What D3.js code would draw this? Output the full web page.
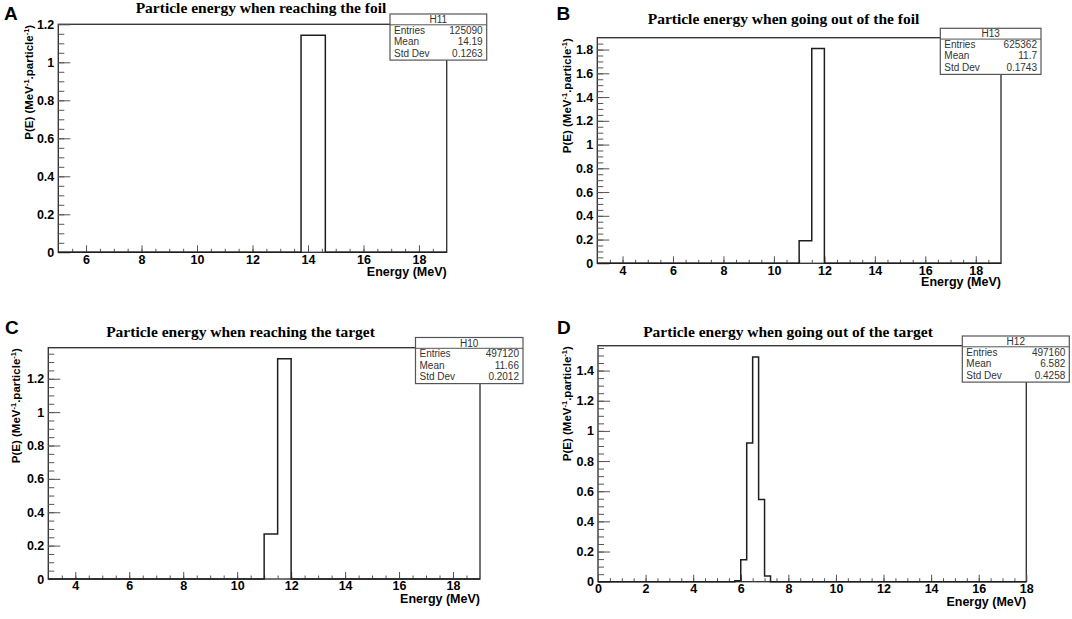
<!DOCTYPE html>
<html>
<head>
<meta charset="utf-8">
<script src="https://cdn.jsdelivr.net/npm/d3@7"></script>
<style>
  html, body { margin: 0; padding: 0; background: #fff; }
  svg { display: block; }
</style>
</head>
<body>
<script>
//Data
const panelLetters = ['A', 'B', 'C', 'D'];
const panelTitles = [
  'Particle energy when reaching the foil',
  'Particle energy when going out of the foil',
  'Particle energy when reaching the target',
  'Particle energy when going out of the target'
];
const histNames = ['H11', 'H13', 'H10', 'H12'];
const statEntries = ['125090', '625362', '497120', '497160'];
const statMeans = ['14.19', '11.7', '11.66', '6.582'];
const statStdDevs = ['0.1263', '0.1743', '0.2012', '0.4258'];

const xRanges = [[5, 19], [3, 19], [3, 19], [0, 18]];
const yMaxima = [1.2, 1.9, 1.386, 1.565];
const xTickLabels = [
  [6, 8, 10, 12, 14, 16, 18],
  [4, 6, 8, 10, 12, 14, 16, 18],
  [4, 6, 8, 10, 12, 14, 16, 18],
  [0, 2, 4, 6, 8, 10, 12, 14, 16, 18]
];
const yTickLabels = [
  [0, 0.2, 0.4, 0.6, 0.8, 1, 1.2],
  [0, 0.2, 0.4, 0.6, 0.8, 1, 1.2, 1.4, 1.6, 1.8],
  [0, 0.2, 0.4, 0.6, 0.8, 1, 1.2],
  [0, 0.2, 0.4, 0.6, 0.8, 1, 1.2, 1.4]
];
const binWidths = [0.875, 0.5, 0.5, 0.25];
const binLows = [
  [13.75],
  [11, 11.5],
  [11, 11.5],
  [5.75, 6, 6.25, 6.5, 6.75, 7]
];
const binValues = [
  [1.143],
  [0.19, 1.81],
  [0.27, 1.32],
  [0.006, 0.145, 0.92, 1.49, 0.545, 0.038]
];
const xAxisTitle = 'Energy (MeV)';

//Layout
const frames = [
  { l: 58.3, r: 446.7, t: 24.3, b: 252.3 },
  { l: 597.3, r: 1001, t: 37.7, b: 263.3 },
  { l: 48.3, r: 480, t: 347.7, b: 579 },
  { l: 598, r: 1026.3, t: 345.7, b: 581.7 }
];
const statBoxes = [
  { x: 390, y: 14, w: 96.7 },
  { x: 940.3, y: 28.3, w: 100.7 },
  { x: 415.5, y: 337.5, w: 107.5 },
  { x: 962.3, y: 336, w: 107 }
];
const titlePos = [[261, 13], [783.5, 23.5], [240.5, 337], [788, 337]];
const letterPos = [[4, 20], [556.5, 20], [5, 333.5], [557, 334]];
const yTitleX = [32.5, 570.5, 19.5, 570.5];
const xTitleY = [275.5, 286, 602.5, 606];

const SANS = '"Liberation Sans", Arial, sans-serif';
const SERIF = '"Liberation Serif", "Times New Roman", serif';

const svg = d3.select('body').append('svg')
  .attr('width', 1072).attr('height', 619);

const styleAxis = (sel, showText) => {
  sel.select('.domain').remove();
  sel.attr('font-family', SANS).attr('font-size', 12.5).attr('font-weight', 'bold');
  sel.selectAll('line').attr('stroke', '#555').attr('stroke-width', 1);
  sel.selectAll('text').attr('fill', showText ? '#000' : 'none');
};

panelLetters.forEach((letter, i) => {
  const f = frames[i];
  const [xMin, xMax] = xRanges[i];
  const x = d3.scaleLinear().domain(xRanges[i]).range([f.l, f.r]);
  const y = d3.scaleLinear().domain([0, yMaxima[i]]).range([f.b, f.t]);
  const g = svg.append('g');

  // frame
  g.append('rect')
    .attr('x', f.l).attr('y', f.t)
    .attr('width', f.r - f.l).attr('height', f.b - f.t)
    .attr('fill', 'none').attr('stroke', '#383838').attr('stroke-width', 1.4);

  // x axis: minor every 0.5, major as labelled
  const xMinor = d3.range(Math.ceil(xMin / 0.5) * 0.5, xMax + 1e-9, 0.5)
    .filter(v => v > xMin && v < xMax);
  g.append('g').attr('transform', `translate(0,${f.b})`)
    .call(d3.axisBottom(x).tickValues(xMinor).tickSize(-3.5).tickFormat(''))
    .call(s => styleAxis(s, false));
  g.append('g').attr('transform', `translate(0,${f.b})`)
    .call(d3.axisBottom(x).tickValues(xTickLabels[i]).tickSize(-7).tickPadding(2.5)
      .tickFormat(d3.format('~g')))
    .call(s => styleAxis(s, true));

  // y axis: minor every 0.05
  const yMinor = d3.range(0.05, yMaxima[i], 0.05);
  g.append('g').attr('transform', `translate(${f.l},0)`)
    .call(d3.axisLeft(y).tickValues(yMinor).tickSize(-6).tickFormat(''))
    .call(s => styleAxis(s, false));
  g.append('g').attr('transform', `translate(${f.l},0)`)
    .call(d3.axisLeft(y).tickValues(yTickLabels[i]).tickSize(-12).tickPadding(4)
      .tickFormat(d3.format('~g')))
    .call(s => styleAxis(s, true));

  // histogram outline (ROOT style step line)
  const lows = binLows[i];
  const pts = [{ e: xMin, v: 0 }]
    .concat(lows.map((lo, k) => ({ e: lo, v: binValues[i][k] })))
    .concat([{ e: lows[lows.length - 1] + binWidths[i], v: 0 }, { e: xMax, v: 0 }]);
  const step = d3.line().x(d => x(d.e)).y(d => y(d.v)).curve(d3.curveStepAfter);
  g.append('path').attr('d', step(pts))
    .attr('fill', 'none').attr('stroke', '#1e1e1e').attr('stroke-width', 1.5);

  // stats box
  const sb = statBoxes[i];
  const headH = 10.8, rowH = 11.5;
  const sg = g.append('g').attr('transform', `translate(${sb.x},${sb.y})`)
    .attr('font-family', SANS).attr('font-size', 10).attr('fill', '#333');
  sg.append('rect').attr('width', sb.w).attr('height', headH + 3 * rowH + 0.8)
    .attr('fill', '#fff').attr('stroke', '#555').attr('stroke-width', 1.2);
  sg.append('line').attr('x1', 0).attr('x2', sb.w).attr('y1', headH).attr('y2', headH)
    .attr('stroke', '#555').attr('stroke-width', 1);
  sg.append('text').attr('x', sb.w / 2).attr('y', headH - 1.8)
    .attr('text-anchor', 'middle').text(histNames[i]);
  const rows = [['Entries', statEntries[i]], ['Mean', statMeans[i]], ['Std Dev', statStdDevs[i]]];
  rows.forEach(([k, v], r) => {
    const by = headH + rowH * (r + 1) - 2.6;
    sg.append('text').attr('x', 4).attr('y', by).text(k);
    sg.append('text').attr('x', sb.w - 4).attr('y', by).attr('text-anchor', 'end').text(v);
  });

  // title
  g.append('text')
    .attr('x', titlePos[i][0]).attr('y', titlePos[i][1])
    .attr('text-anchor', 'middle')
    .attr('font-family', SERIF).attr('font-weight', 'bold').attr('font-size', 15.5)
    .attr('fill', '#000')
    .text(panelTitles[i]);

  // panel letter
  g.append('text')
    .attr('x', letterPos[i][0]).attr('y', letterPos[i][1])
    .attr('font-family', SANS).attr('font-weight', 'bold').attr('font-size', 19)
    .attr('fill', '#000')
    .text(letter);

  // y axis title, anchored at frame top
  const yt = g.append('text')
    .attr('transform', `translate(${yTitleX[i]},${f.t + 0.5}) rotate(-90)`)
    .attr('text-anchor', 'end')
    .attr('font-family', SANS).attr('font-weight', 'bold').attr('font-size', 11.5)
    .attr('fill', '#000');
  yt.append('tspan').text('P(E) (MeV');
  yt.append('tspan').attr('dy', -4).attr('font-size', 7.5).text('-1');
  yt.append('tspan').attr('dy', 4).text('.particle');
  yt.append('tspan').attr('dy', -4).attr('font-size', 7.5).text('-1');
  yt.append('tspan').attr('dy', 4).text(')');

  // x axis title, anchored at frame right
  g.append('text')
    .attr('x', f.r).attr('y', xTitleY[i])
    .attr('text-anchor', 'end')
    .attr('font-family', SANS).attr('font-weight', 'bold').attr('font-size', 12.5)
    .attr('fill', '#000')
    .text(xAxisTitle);
});
</script>
</body>
</html>
